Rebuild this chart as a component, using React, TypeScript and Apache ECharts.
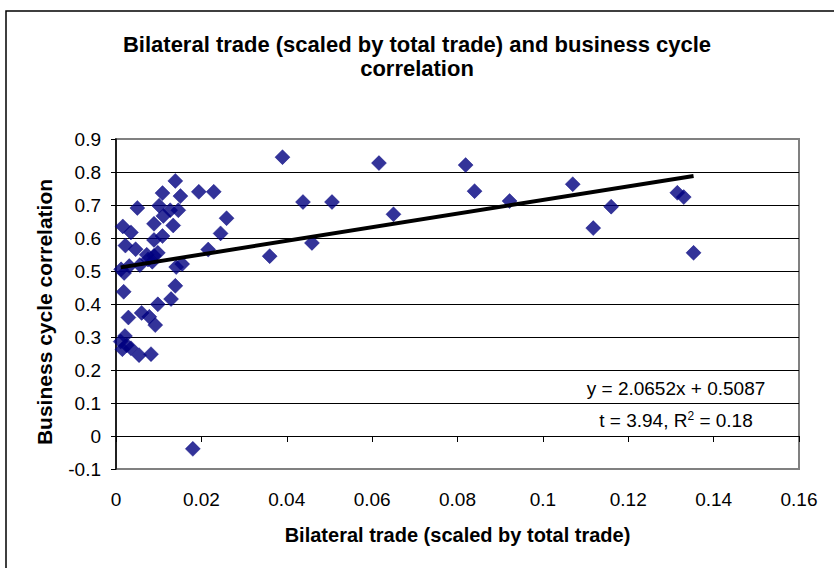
import React, { useEffect, useRef } from "react";
import * as echarts from "echarts";

// Bilateral trade (scaled by total trade) — x values
const bilateralTrade = [
  0.039, 0.0438, 0.0506, 0.036, 0.0459, 0.0616, 0.065, 0.0819, 0.084, 0.0922,
  0.107, 0.116, 0.1118, 0.1315, 0.133, 0.1353, 0.018,
  0.0139, 0.0109, 0.0151, 0.0194, 0.0229, 0.005, 0.0101, 0.0127, 0.0146,
  0.0111, 0.0134, 0.0089, 0.0016, 0.0035, 0.0109, 0.0089, 0.0245, 0.0259,
  0.0022, 0.0046, 0.0216, 0.0072, 0.0089, 0.0085, 0.0056, 0.0031, 0.0019,
  0.0141, 0.0155, 0.0018, 0.0139, 0.0129, 0.0098, 0.0029, 0.006, 0.0078,
  0.0092, 0.0021, 0.0011, 0.0015, 0.0035, 0.0054, 0.0082, 0.0025, 0.0075,
  0.0098, 0.0012,
];
// Business cycle correlation — y values
const cycleCorrelation = [
  0.845, 0.709, 0.709, 0.545, 0.585, 0.827, 0.672, 0.821, 0.742, 0.712,
  0.763, 0.695, 0.63, 0.737, 0.724, 0.555, -0.039,
  0.773, 0.736, 0.727, 0.74, 0.74, 0.691, 0.698, 0.684, 0.684,
  0.667, 0.638, 0.643, 0.635, 0.617, 0.606, 0.594, 0.614, 0.66,
  0.577, 0.566, 0.565, 0.549, 0.546, 0.528, 0.518, 0.515, 0.494,
  0.512, 0.521, 0.437, 0.455, 0.415, 0.399, 0.359, 0.373, 0.361,
  0.336, 0.303, 0.286, 0.263, 0.266, 0.245, 0.248, 0.275, 0.535,
  0.555, 0.505,
];

const trendSlope = 2.0652;
const trendIntercept = 0.5087;
const tStat = 3.94;
const rSquared = 0.18;

const titleLines = [
  "Bilateral trade (scaled by total trade) and business cycle",
  "correlation",
];
const xAxisTitle = "Bilateral trade (scaled by total trade)";
const yAxisTitle = "Business cycle correlation";

const FONT = "'Liberation Sans', Arial, Helvetica, sans-serif";

export default function App() {
  const ref = useRef<HTMLDivElement>(null);

  useEffect(() => {
    if (!ref.current) return;
    const chart = echarts.init(ref.current, null, { renderer: "svg" });
    const pts = bilateralTrade.map((x, i) => [x, cycleCorrelation[i]]);
    const xmin = Math.min(...bilateralTrade);
    const xmax = Math.max(...bilateralTrade);
    const trend = [
      [xmin, trendSlope * xmin + trendIntercept],
      [xmax, trendSlope * xmax + trendIntercept],
    ];
    const fmt = (v: number) => String(Math.round(v * 100) / 100);
    const splitColors = Array.from({ length: 11 }, (_, i) =>
      i === 0 || i === 10 ? "#808080" : "#000"
    );

    chart.setOption({
      animation: false,
      backgroundColor: "#fff",
      textStyle: { fontFamily: FONT },
      title: titleLines.map((t, i) => ({
        text: t,
        left: "center",
        top: 33 + i * 24,
        padding: 0,
        textStyle: {
          fontFamily: FONT,
          fontSize: 22,
          fontWeight: "bold",
          color: "#000",
        },
      })),
      grid: {
        left: 116,
        right: 35,
        top: 139,
        bottom: 99,
        show: true,
        borderColor: "#808080",
        borderWidth: 2,
      },
      xAxis: [
        {
          type: "value",
          min: 0,
          max: 0.16,
          interval: 0.02,
          position: "bottom",
          axisLine: { show: false, onZero: false },
          axisTick: { show: false },
          splitLine: { show: false },
          axisLabel: {
            fontSize: 19,
            color: "#000",
            margin: 21,
            formatter: fmt,
            fontFamily: FONT,
          },
          name: xAxisTitle,
          nameLocation: "middle",
          nameGap: 56,
          nameTextStyle: {
            fontSize: 20,
            fontWeight: "bold",
            color: "#000",
            fontFamily: FONT,
          },
        },
        {
          type: "value",
          min: 0,
          max: 0.16,
          interval: 0.02,
          position: "bottom",
          axisLine: { show: true, onZero: true, lineStyle: { color: "#000", width: 1 } },
          axisTick: { show: true, length: 6, lineStyle: { color: "#000" } },
          axisLabel: { show: false },
          splitLine: { show: false },
        },
      ],
      yAxis: {
        type: "value",
        min: -0.1,
        max: 0.9,
        interval: 0.1,
        axisLine: { show: true, onZero: false, lineStyle: { color: "#000", width: 1.5 } },
        axisTick: { show: true, length: 5, lineStyle: { color: "#000" } },
        axisLabel: {
          fontSize: 19,
          color: "#000",
          margin: 15,
          formatter: fmt,
          fontFamily: FONT,
        },
        splitLine: { show: true, lineStyle: { color: splitColors, width: 1 } },
      },
      series: [
        {
          type: "scatter",
          xAxisIndex: 0,
          data: pts,
          symbol: "diamond",
          symbolSize: 15,
          itemStyle: { color: "#000080", borderColor: "#000080", borderWidth: 0.5 },
          z: 2,
        },
        {
          type: "line",
          xAxisIndex: 0,
          data: trend,
          symbol: "none",
          lineStyle: { color: "#000", width: 4 },
          z: 3,
        },
      ],
      graphic: [
        {
          type: "rect",
          silent: true,
          shape: { x: 6, y: 11, width: 900, height: 700 },
          style: { fill: "none", stroke: "#000", lineWidth: 1.5 },
        },
        {
          type: "text",
          x: 44,
          y: 312,
          rotation: Math.PI / 2,
          style: {
            text: yAxisTitle,
            align: "center",
            verticalAlign: "middle",
            fontSize: 21,
            fontWeight: "bold",
            fontFamily: FONT,
            fill: "#000",
          },
        },
        {
          type: "text",
          x: 676,
          y: 388,
          style: {
            text: `y = ${trendSlope}x + ${trendIntercept}`,
            align: "center",
            verticalAlign: "middle",
            fontSize: 19,
            fontFamily: FONT,
            fill: "#000",
          },
        },
        {
          type: "text",
          x: 676,
          y: 420,
          style: {
            text: `t = ${tStat}, R{sup|2} = ${rSquared}`,
            align: "center",
            verticalAlign: "middle",
            fontSize: 19,
            fontFamily: FONT,
            fill: "#000",
            rich: {
              sup: {
                fontSize: 12,
                fontFamily: FONT,
                fill: "#000",
                verticalAlign: "top",
                padding: [0, 0, 8, 0],
              },
            },
          },
        },
      ],
    });
    return () => chart.dispose();
  }, []);

  return (
    <div
      ref={ref}
      style={{
        position: "fixed",
        left: 0,
        top: 0,
        width: 834,
        height: 568,
        background: "#fff",
      }}
    />
  );
}
